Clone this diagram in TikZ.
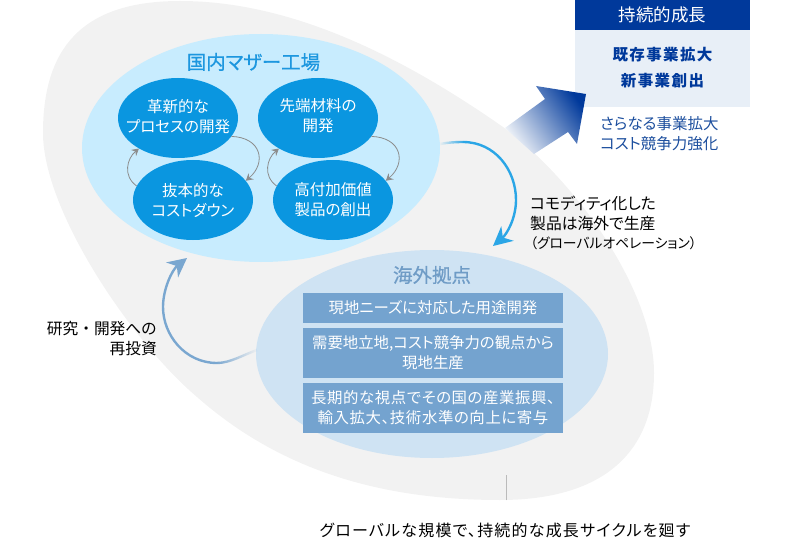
\documentclass[tikz,border=0pt]{standalone}
\usepackage{fontspec}
\setmainfont{Noto Sans CJK JP}[RawFeature=+palt]
\newfontfamily\fullwidth{Noto Sans CJK JP}
\usetikzlibrary{shapes,arrows.meta,fadings}
\definecolor{blobgray}{HTML}{F2F2F2}
\definecolor{homefill}{HTML}{C8ECFE}
\definecolor{homeblue}{HTML}{0A96E0}
\definecolor{hometitle}{HTML}{1D97DF}
\definecolor{ovsfill}{HTML}{CFE3F3}
\definecolor{ovsbox}{HTML}{74A3CF}
\definecolor{ovstitle}{HTML}{6F9CC6}
\definecolor{navy}{HTML}{00399B}
\definecolor{panel}{HTML}{E8EFF7}
\definecolor{growtext}{HTML}{1D4F9E}
\definecolor{cyclegray}{HTML}{8C8C8C}
\definecolor{cycleblue}{HTML}{2BA6E6}
\definecolor{returnblue}{HTML}{7AA7D0}
\definecolor{armlight}{HTML}{EEF2F8}
\definecolor{leadgray}{HTML}{BBBBBB}
\tikzfading[name=fadein, left color=transparent!100, right color=transparent!0]
\tikzfading[name=fadeout, left color=transparent!0, right color=transparent!100]
\tikzstyle{homeblock} = [ellipse, fill=homeblue, inner xsep=-30, inner ysep=-15, minimum width=120, minimum height=80,
    text=white, align=center, font=\fontsize{15.5}{20}\selectfont]
\tikzstyle{ovsblock} = [rectangle, fill=ovsbox, inner sep=0, minimum width=260,
    text=white, align=center, font=\fontsize{15.4}{20}\selectfont]
\tikzstyle{label} = [inner sep=0, align=left, font=\fontsize{15.8}{20}\selectfont]
\tikzstyle{small} = [draw=cyclegray, line width=0.8, -{Stealth[length=7,width=8,inset=2.5]}]
\begin{document}
\begin{tikzpicture}[x=1pt, y=-1pt]
        \useasboundingbox (0,0) rectangle (800,540);
        % Background
        \fill [blobgray] (43,133) .. controls (43,50) and (80,1) .. (180,1)
            .. controls (290,1) and (400,55) .. (503,127)
            .. controls (575,180) and (654,290) .. (654,373)
            .. controls (654,455) and (600,500) .. (500,500)
            .. controls (380,500) and (280,470) .. (197,397)
            .. controls (130,340) and (43,210) .. (43,133);

        % Place nodes
        \node (home) at (261,148) [ellipse, fill=homefill, inner sep=0, minimum width=358, minimum height=228] {};
        \node (ovs) at (432,354) [ellipse, fill=ovsfill, inner sep=0, minimum width=352, minimum height=208] {};
        \path (home.center)+(-7.5,-86) node (hometitle) [inner sep=0, text=hometitle, font=\fontsize{19.5}{20}\selectfont\addfontfeature{FakeBold=0.6}] {国内マザー工場};

        %Home cycle
        \path (home.center)+(-83,-30) node (innovate) [homeblock] {革新的な\\プロセスの開発\\[-16pt]};
        \path (home.center)+(57,-30) node (material) [homeblock] {~\\[-12pt]先端材料の\\開発};
        \path (home.center)+(-68,52) node (cost) [homeblock] {抜本的な\\コストダウン};
        \path (home.center)+(72,52) node (value) [homeblock] {高付加価値\\製品の創出};
        \path [small] (innovate.-19) .. controls +(30,1) and +(21,-18) .. (cost.20);
        \path [small] (cost.166) .. controls +(-14,-10) and +(-12,10) .. (innovate.218);
        \path [small] (material.-19) .. controls +(30,1) and +(21,-18) .. (value.20);
        \path [small] (value.166) .. controls +(-14,-10) and +(-12,10) .. (material.218);

        %Overseas
        \path (ovs.center)+(0,-79) node (ovstitle) [inner sep=0, text=ovstitle, font=\fontsize{19.5}{20}\selectfont\addfontfeature{FakeBold=0.6}] {海外拠点};
        \path (ovs.center)+(1,-46) node (need) [ovsblock, minimum height=30] {現地ニーズに対応した用途開発};
        \path (ovs.center)+(1,-1) node (local) [ovsblock, minimum height=50] {需要地立地,コスト競争力の観点から\\現地生産};
        \path (ovs.center)+(1,54) node (longterm) [ovsblock, minimum height=50, font=\fontsize{15.4}{20}\selectfont\addfontfeature{LetterSpace=4}] {長期的な視点でその国の産業振興、\\輸入拡大、技術水準の向上に寄与};

        %Growth panel
        \node (growhead) at (662.5,15) [rectangle, fill=navy, inner sep=0, minimum width=175, minimum height=30,
            text=white, font=\fontsize{17.5}{20}\selectfont] {持続的成長};
        \path (growhead.south)+(0,38.5) node (growbody) [rectangle, fill=panel, inner sep=0, minimum width=175, minimum height=77,
            text=navy, align=center, font=\fontsize{15.5}{26}\selectfont\bfseries\addfontfeature{LetterSpace=9}] {既存事業拡大\\新事業創出\\[-22pt]};
        \path (growbody.south)+(-62.5,26) node (growmore) [label, anchor=west, text=growtext, font=\fontsize{15.5}{20}\selectfont] {さらなる事業拡大\\コスト競争力強化};

        %Big arrow
        \shade [top color=navy, bottom color=armlight, shading angle=-55]
            (586,94) -- (536,86) -- (545,99) -- (505,128) -- (534,154) -- (568,132) -- (577,144) -- cycle;

        %Cycle arrows
        \path (home.center)+(179,-4) coordinate (homeout);
        \path (home.center)+(202,-6) coordinate (bluebend);
        \path (ovs.center)+(61,-108) coordinate (ovsin);
        \path (ovs.center)+(-175,-4) coordinate (ovsout);
        \path (ovs.center)+(-215,9) coordinate (greybend);
        \path (home.center)+(-74,110) coordinate (homein);
        \draw [cycleblue, line width=2.4, path fading=fadein] (homeout) .. controls +(8,-1.5) and +(-8,0) .. (bluebend);
        \draw [cycleblue, line width=2.4, -{Stealth[length=19,width=19,inset=6]}] (bluebend) .. controls +(32,0) and +(0,-30) .. (516,200)
            .. controls +(0,18) and +(14,-12) .. (ovsin);
        \draw [returnblue, line width=2.4, path fading=fadeout] (greybend) .. controls +(13,0) and +(-14,5) .. (ovsout);
        \draw [returnblue, line width=2.4, -{Stealth[length=19,width=19,inset=6]}] (greybend) .. controls +(-32,0) and +(0,28) .. (163,307)
            .. controls +(0,-18) and +(-15,12) .. (homein);

        %Labels
        \node (commodity) at (530,223) [label, anchor=west] {コモディティ化した\\製品は海外で生産\\[-1pt]{\fontsize{13.8}{16}\selectfont（グローバルオペレーション）}};
        \node (reinvest) at (157,339) [label, anchor=east, align=right, font=\fontsize{15.7}{20}\fullwidth] {研究・開発への\\再投資};
        \node (summary) at (505,530) [inner sep=0, font=\fontsize{16}{20}\selectfont\addfontfeature{LetterSpace=7.5}] {グローバルな規模で、持続的な成長サイクルを廻す};
        \path (summary.north)+(1,-22) coordinate (leadtop);
        \path (summary.north)+(1,-47) coordinate (leadend);
        \draw [leadgray, line width=0.8] (leadtop) -- (leadend);
    \end{tikzpicture}
\end{document}
